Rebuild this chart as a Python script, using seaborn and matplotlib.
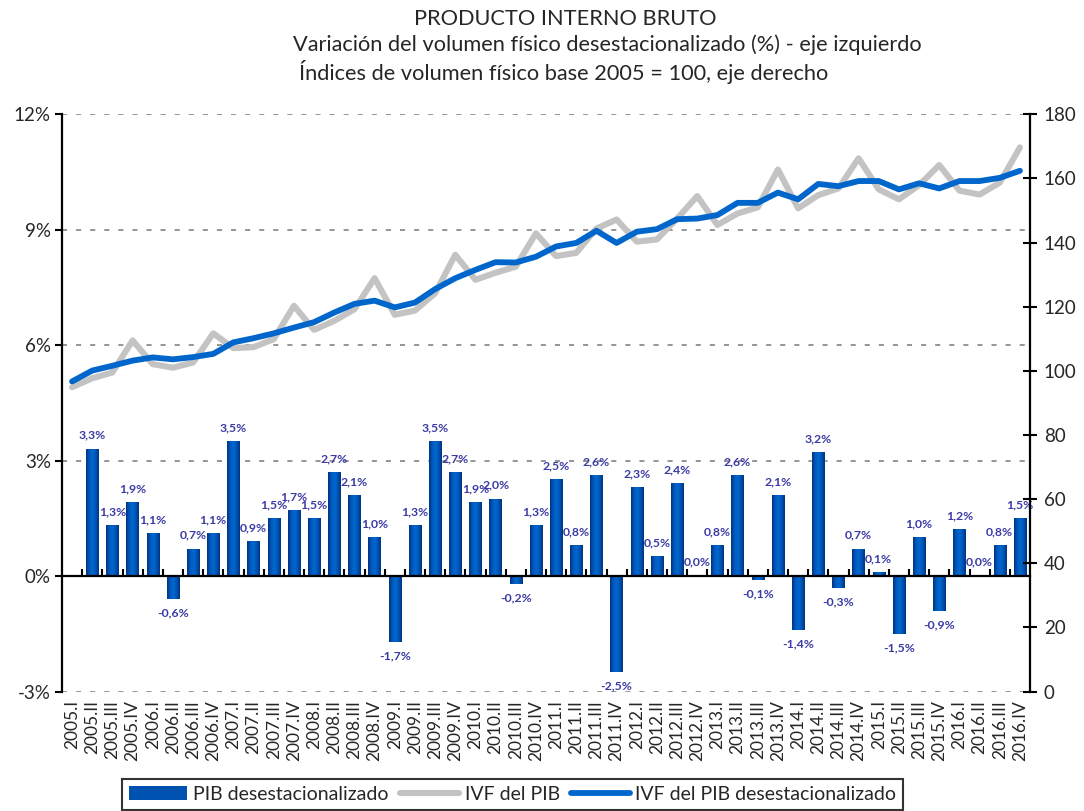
import numpy as np
import pandas as pd
import seaborn as sns
import matplotlib.pyplot as plt
from matplotlib.lines import Line2D
from matplotlib.patches import Patch
from matplotlib.colors import LinearSegmentedColormap

# ---- data ----
years = ["2005", "2006", "2007", "2008", "2009", "2010",
         "2011", "2012", "2013", "2014", "2015", "2016"]
qtrs = ["I", "II", "III", "IV"]
quarters = [y + "." + q for y in years for q in qtrs]

# variacion desestacionalizada (%), from 2005.II (2005.I has no value)
pib_var = [3.3, 1.3, 1.9, 1.1, -0.6, 0.7, 1.1, 3.5, 0.9, 1.5, 1.7, 1.5,
           2.7, 2.1, 1.0, -1.7, 1.3, 3.5, 2.7, 1.9, 2.0, -0.2, 1.3, 2.5,
           0.8, 2.6, -2.5, 2.3, 0.5, 2.4, 0.0, 0.8, 2.6, -0.1, 2.1, -1.4,
           3.2, -0.3, 0.7, 0.1, -1.5, 1.0, -0.9, 1.2, 0.0, 0.8, 1.5]

ivf_pib = [94.9, 97.7, 99.5, 109.5, 102.1, 101.0, 102.6, 111.7, 107.1, 107.4,
           109.9, 120.3, 112.8, 115.6, 119.2, 128.9, 117.5, 118.8, 124.2, 136.2,
           128.4, 130.6, 132.5, 142.9, 135.8, 136.8, 144.4, 147.2, 140.3, 141.0,
           147.5, 154.5, 145.5, 149.1, 151.0, 162.8, 150.7, 154.8, 156.9, 166.3,
           156.6, 153.5, 157.9, 164.2, 156.2, 155.0, 158.7, 169.7]

ivf_desest = [96.7, 100.1, 101.6, 103.2, 104.2, 103.6, 104.3, 105.3, 108.9, 110.2,
              111.7, 113.5, 115.2, 118.2, 120.9, 121.9, 119.8, 121.3, 125.5, 128.9,
              131.5, 133.9, 133.8, 135.6, 138.8, 139.9, 143.7, 139.9, 143.4, 144.2,
              147.3, 147.5, 148.6, 152.4, 152.4, 155.6, 153.5, 158.3, 157.6, 159.2,
              159.2, 156.6, 158.5, 156.9, 159.2, 159.2, 160.2, 162.4]

df_bars = pd.DataFrame({"trimestre": quarters[1:], "var": pib_var})
df_lines = pd.DataFrame({"trimestre": quarters, "ivf": ivf_pib, "desest": ivf_desest})

sns.set_theme(style="white")
plt.rcParams["font.family"] = ["Lato", "DejaVu Sans"]

fig = plt.figure(figsize=(10.84, 8.11), dpi=100)
ax = fig.add_axes([0.0572, 0.1473, 0.893, 0.7117])

bar_col = "#0052b0"
sns.barplot(data=df_bars, x="trimestre", y="var", order=quarters, color=bar_col,
            saturation=1, width=0.61, errorbar=None, ax=ax, zorder=2)

# gradient look on the bars
grad_cmap = LinearSegmentedColormap.from_list(
    "g", ["#00337f", "#0058bc", "#0068d0", "#0054b4", "#00347f"])
grad = np.linspace(0, 1, 64).reshape(1, -1)
for p in list(ax.patches):
    h = p.get_height()
    if h == 0:
        continue
    x0, y0 = p.get_xy()
    ax.imshow(grad, extent=[x0, x0 + p.get_width(), min(y0, y0 + h), max(y0, y0 + h)],
              aspect="auto", cmap=grad_cmap, zorder=2.1, interpolation="bilinear")

labels = [f"{v:.1f}%".replace(".", ",") for v in pib_var]
ax.bar_label(ax.containers[0], labels=labels, padding=6, fontsize=8.8,
             fontweight="bold", color="#3b3ba5", zorder=5)

ax2 = ax.twinx()
sns.lineplot(data=df_lines, x="trimestre", y="ivf", sort=False, ax=ax2,
             color="#c3c3c3", lw=4.4, legend=False)
sns.lineplot(data=df_lines, x="trimestre", y="desest", sort=False, ax=ax2,
             color="#0066cc", lw=4.2, legend=False)

# axes limits / ticks
ax.set_xlim(-0.5, len(quarters) - 0.5)
ax.set_ylim(-3, 12)
ax.set_yticks([-3, 0, 3, 6, 9, 12])
ax.set_yticklabels([f"{t}%" for t in [-3, 0, 3, 6, 9, 12]])
ax2.set_ylim(0, 180)
ax2.set_yticks(range(0, 181, 20))
ax.set_xticks(range(len(quarters)))
ax.set_xticklabels(quarters)
ax.set_xticks(np.arange(0.5, len(quarters) - 1, 1), minor=True)
ax.set_xlabel("")
ax.set_ylabel("")
ax2.set_xlabel("")
ax2.set_ylabel("")

ax.yaxis.grid(True, color="#8c8c8c", linestyle=(0, (2.8, 5.0)), lw=1.3)
ax.set_axisbelow(True)

for s in ["top", "right"]:
    ax.spines[s].set_visible(False)
for s in ["top", "left", "bottom"]:
    ax2.spines[s].set_visible(False)
ax.spines["left"].set_color("black")
ax.spines["left"].set_linewidth(1.6)
ax.spines["bottom"].set_position(("data", 0))
ax.spines["bottom"].set_color("black")
ax.spines["bottom"].set_linewidth(1.6)
ax.spines["bottom"].set_zorder(3)
ax2.spines["right"].set_color("black")
ax2.spines["right"].set_linewidth(1.6)

ax.tick_params(axis="y", which="major", direction="out", length=5, width=1.5,
               color="black", labelsize=13.5, pad=3, left=True)
ax2.tick_params(axis="y", which="major", direction="inout", length=10, width=1.5,
                color="black", labelsize=13.5, pad=5, right=True)
ax.tick_params(axis="x", which="major", length=0, labelbottom=False)
ax.tick_params(axis="x", which="minor", direction="in", length=5, width=1.5,
               color="black", bottom=True)

ax2.xaxis.set_visible(True)
ax2.tick_params(axis="x", which="major", length=0, labelbottom=True,
                labelsize=12.5, labelrotation=90, pad=6)
ax2.tick_params(axis="x", which="minor", length=0)

# titles
fig.text(0.5212, 0.9766, "PRODUCTO INTERNO BRUTO", ha="center", va="center", fontsize=15.7)
fig.text(0.5604, 0.9445, "Variación del volumen físico desestacionalizado (%) - eje izquierdo",
         ha="center", va="center", fontsize=15.7)
fig.text(0.5198, 0.9112, "Índices de volumen físico base 2005 = 100, eje derecho",
         ha="center", va="center", fontsize=15.7)

handles = [Patch(facecolor=bar_col, edgecolor="none"),
           Line2D([], [], color="#c3c3c3", lw=4.4),
           Line2D([], [], color="#0066cc", lw=4.2)]
leg = fig.legend(handles, ["PIB desestacionalizado", "IVF del PIB",
                           "IVF del PIB desestacionalizado"],
                 loc="upper center", bbox_to_anchor=(0.473, 0.0395), ncol=3,
                 fontsize=14, frameon=True, fancybox=False, handlelength=3.0,
                 handletextpad=0.3, columnspacing=0.6, borderpad=0.35,
                 borderaxespad=0)
leg.get_frame().set_edgecolor("black")
leg.get_frame().set_linewidth(1.5)

fig.savefig("out.png", dpi=100)
